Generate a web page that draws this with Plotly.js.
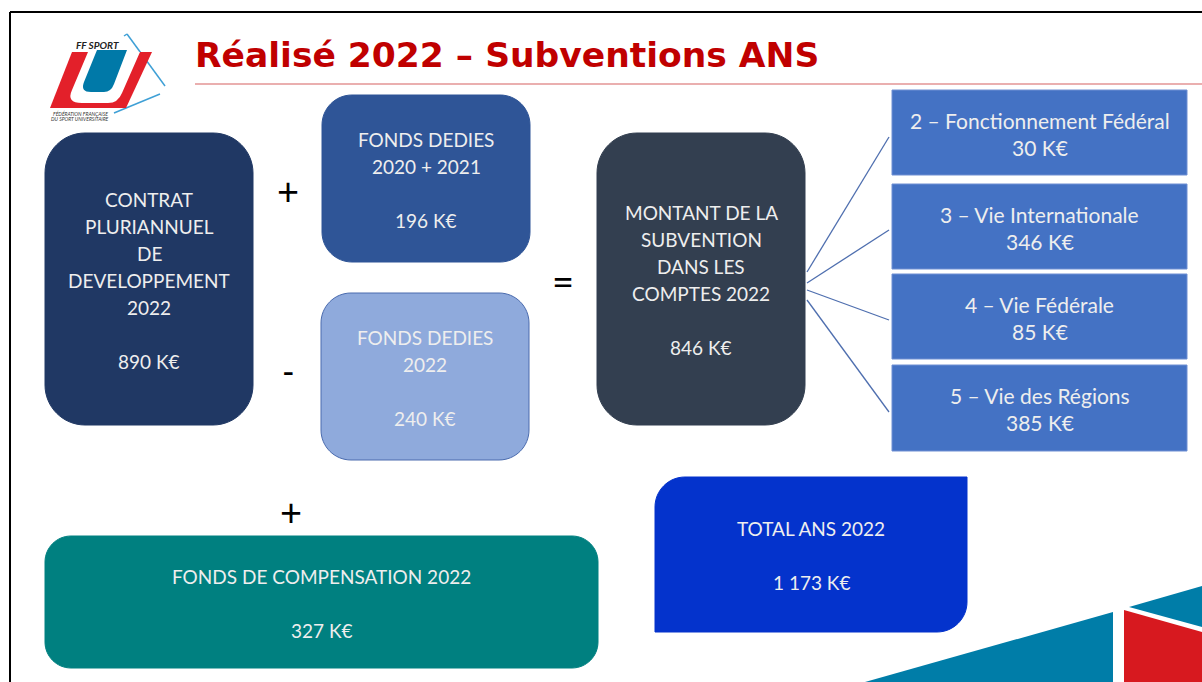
<!DOCTYPE html>
<html><head><meta charset="utf-8">
<script src="https://cdn.plot.ly/plotly-3.0.1.min.js"></script>
<style>html,body{margin:0;padding:0;background:#fff;}#chart{width:1202px;height:682px;}</style>
</head><body><div id="chart"></div>
<script>
// ---- data (K€) ----
const titleText = "Réalisé 2022 – Subventions ANS";
const contratLabel = ["CONTRAT", "PLURIANNUEL", "DE", "DEVELOPPEMENT", "2022"];
const contratValue = 890;
const fondsAnterieursLabel = ["FONDS DEDIES", "2020 + 2021"];
const fondsAnterieursValue = 196;
const fonds2022Label = ["FONDS DEDIES", "2022"];
const fonds2022Value = 240;
const montantLabel = ["MONTANT DE LA", "SUBVENTION", "DANS LES", "COMPTES 2022"];
const montantValue = 846;
const actionLabels = ["2 – Fonctionnement Fédéral", "3 – Vie Internationale", "4 – Vie Fédérale", "5 – Vie des Régions"];
const actionValues = [30, 346, 85, 385];
const compensationLabel = ["FONDS DE COMPENSATION 2022"];
const compensationValue = 327;
const totalLabel = ["TOTAL ANS 2022"];
const totalValue = 1173;
const operators = ["+", "-", "=", "+"];

// ---- helpers ----
function fmt(v){ return String(v).replace(/\B(?=(\d{3})+(?!\d))/g, " ") + " K€"; }
function rrect(x0,y0,x1,y1,r){ // r: [tl,tr,br,bl]
  const k=0.5523;
  const [a,b,c,d]=r;
  let p=`M ${x0+a} ${y0} L ${x1-b} ${y0} `;
  p+= b? `C ${x1-b+b*k} ${y0} ${x1} ${y0+b-b*k} ${x1} ${y0+b} `:``;
  p+=`L ${x1} ${y1-c} `;
  p+= c? `C ${x1} ${y1-c+c*k} ${x1-c+c*k} ${y1} ${x1-c} ${y1} `:``;
  p+=`L ${x0+d} ${y1} `;
  p+= d? `C ${x0+d-d*k} ${y1} ${x0} ${y1-d+d*k} ${x0} ${y1-d} `:``;
  p+=`L ${x0} ${y0+a} `;
  p+= a? `C ${x0} ${y0+a-a*k} ${x0+a-a*k} ${y0} ${x0+a} ${y0} `:``;
  return p+'Z';
}
const shapes=[], annotations=[];
const FONT="Lato, 'Open Sans', sans-serif";
const TXT="#EEEEEE";
const LH=27;
function box(x0,y0,x1,y1,r,fill,lines,line,fs){
  shapes.push({type:'path',path:rrect(x0,y0,x1,y1,r),fillcolor:fill,
    line:line||{color:fill,width:1},layer:'below'});
  const cy=(y0+y1)/2+1, cx=(x0+x1)/2, n=lines.length;
  lines.forEach((t,i)=>{
    if(t==='') return;
    annotations.push({x:cx,y:cy+(i-(n-1)/2)*LH,xref:'x',yref:'y',text:t,showarrow:false,
      xanchor:'center',yanchor:'middle',font:{family:FONT,size:fs||19,color:TXT}});
  });
}

// boxes
box(45,133,253,425,[40,40,40,40],'#203864',[...contratLabel,'',fmt(contratValue)]);
box(322,95,530,262,[30,30,30,30],'#2F5597',[...fondsAnterieursLabel,'',fmt(fondsAnterieursValue)]);
box(321,293,529,460,[30,30,30,30],'#8FAADC',[...fonds2022Label,'',fmt(fonds2022Value)],{color:'#4A6BAE',width:1});
box(597,133,805,425,[40,40,40,40],'#333F50',[...montantLabel,'',fmt(montantValue)]);
const actY=[[90,175],[184,269],[274,359],[365,451]];
actionLabels.forEach((l,i)=>{
  box(892,actY[i][0],1187,actY[i][1],[0,0,0,0],'#4472C4',[l,fmt(actionValues[i])],{color:'#6F8FD3',width:1},21);
});
box(45,536,598,668,[26,26,26,26],'#008080',[...compensationLabel,'',fmt(compensationValue)]);
box(655,477,967,632,[30,0,30,0],'#0433CC',[...totalLabel,'',fmt(totalValue)]);

// connectors
const connStart=[272,283,290,300], connEnd=[137,230,320,412];
connStart.forEach((s,i)=>shapes.push({type:'line',x0:807,y0:s,x1:889,y1:connEnd[i],
  line:{color:'#4F6FAF',width:1.3}}));

// operators
const opPos=[[288,190],[288,370],[563,281],[291,511]];
operators.forEach((o,i)=>annotations.push({x:opPos[i][0],y:opPos[i][1],xref:'x',yref:'y',text:o,
  showarrow:false,xanchor:'center',yanchor:'middle',font:{family:FONT,size:o==='-'?34:38,color:'#000'}}));

// frame
shapes.push({type:'line',x0:10,y0:12,x1:1202,y1:12,line:{color:'#000',width:2}});
shapes.push({type:'line',x0:10,y0:12,x1:10,y1:682,line:{color:'#000',width:2}});

// title
annotations.push({x:193,y:55,xref:'x',yref:'y',text:'<b>'+titleText+'</b>',showarrow:false,
  xanchor:'left',yanchor:'middle',font:{family:"'DejaVu Sans', sans-serif",size:34.5,color:'#C00000'}});
shapes.push({type:'line',x0:195,y0:84,x1:1202,y1:84,line:{color:'#E39595',width:1.5}});

// logo
shapes.push({type:'path',path:'M 127 34 L 165 86',line:{color:'#3FA0D6',width:1.5}});
shapes.push({type:'path',path:'M 114 113 L 160 94',line:{color:'#3FA0D6',width:1.5}});
shapes.push({type:'path',path:'M 124 36 L 127 34',line:{color:'#3FA0D6',width:1.5}});
shapes.push({type:'path',path:'M 72 52 L 152 52 L 126 108 L 50 108 Z',fillcolor:'#E3202A',line:{width:0}});
shapes.push({type:'path',path:'M 88 52 L 72 90 Q 66 103 82 103 L 108 103 Q 118 103 122 93 L 140 52 Z',fillcolor:'#FFFFFF',line:{width:0}});
shapes.push({type:'path',path:'M 97 50 L 84 82 Q 80 92 91 92 L 104 92 Q 111 92 114 84 L 127 50 Z',fillcolor:'#0079A8',line:{width:0}});
annotations.push({x:97,y:45,xref:'x',yref:'y',text:'<b><i>FF SPORT</i></b>',showarrow:false,
  xanchor:'center',yanchor:'middle',font:{family:FONT,size:10,color:'#222'}});
annotations.push({x:80,y:113,xref:'x',yref:'y',text:'<i>FÉDÉRATION FRANÇAISE</i>',showarrow:false,
  xanchor:'center',yanchor:'middle',font:{family:FONT,size:5,color:'#333'}});
annotations.push({x:80,y:119,xref:'x',yref:'y',text:'<i>DU SPORT UNIVERSITAIRE</i>',showarrow:false,
  xanchor:'center',yanchor:'middle',font:{family:FONT,size:5,color:'#333'}});

// bottom-right decoration
shapes.push({type:'path',path:'M 865 682 L 1113 612 L 1113 682 Z',fillcolor:'#007DA8',line:{width:0}});
shapes.push({type:'path',path:'M 1124 610 L 1202 632 L 1202 682 L 1124 682 Z',fillcolor:'#D7191F',line:{width:0}});
shapes.push({type:'path',path:'M 1129 607 L 1202 586 L 1202 627 Z',fillcolor:'#007DA8',line:{width:0}});

const layout={width:1202,height:682,margin:{l:0,r:0,t:0,b:0},paper_bgcolor:'#fff',plot_bgcolor:'#fff',
  xaxis:{range:[0,1202],visible:false,fixedrange:true},
  yaxis:{range:[682,0],visible:false,fixedrange:true},
  showlegend:false,shapes:shapes,annotations:annotations};
Plotly.newPlot('chart',[],layout,{displayModeBar:false,staticPlot:true});
</script></body></html>
